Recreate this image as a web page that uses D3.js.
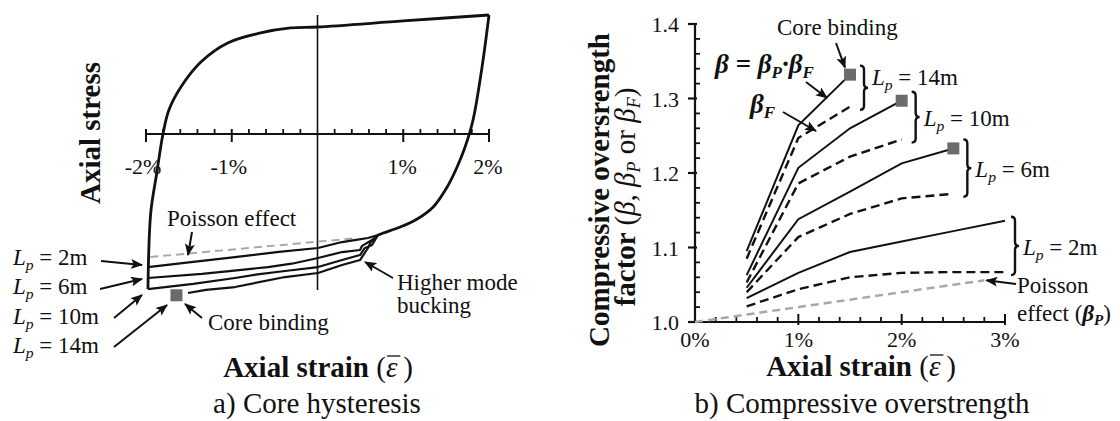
<!DOCTYPE html>
<html>
<head>
<meta charset="utf-8">
<script src="https://cdn.jsdelivr.net/npm/d3@7"></script>
<style>
  body { margin: 0; background: #fff; }
  svg { display: block; }
  text { font-family: "Liberation Serif", "Times New Roman", Times, serif; fill: #111; }
</style>
</head>
<body>
<svg id="chart" width="1120" height="421" font-family="Liberation Serif, Times New Roman, serif"></svg>
<script>
// ---------- Panel a: core hysteresis (strain in %, stress normalised to tensile peak) ----------
const hystTickValues = [-2, -1, 1, 2];
const hystTickLabels = ["-2%", "-1%", "1%", "2%"];

// reloading from compression through tensile yield up to +2%
const tensionStrain = [-1.977, -1.945, -1.875, -1.802, -1.733, -1.593, -1.36, -1.047, -0.663, -0.314, 0, 1.0, 2.0];
const tensionStress = [-1.303, -0.664, -0.330, 0, 0.202, 0.395, 0.605, 0.765, 0.849, 0.891, 0.899, 0.95, 1.0];
// unloading from +2% into compression
const unloadStrain = [2.0, 1.919, 1.814, 1.721, 1.628, 1.512, 1.349, 1.163, 0.965, 0.767, 0.706];
const unloadStress = [1.0, 0.563, 0.118, -0.109, -0.277, -0.445, -0.613, -0.714, -0.782, -0.832, -0.849];

// compressive branches for each plastic-hinge length
const hystLp = ["2m", "6m", "10m", "14m"];
const compStrain2 = [0.706, 0.589, 0.45, 0.286, 0.006, -0.45, -0.962, -1.45, -1.977];
const compStress2 = [-0.849, -0.874, -0.89, -0.908, -0.958, -0.99, -1.034, -1.074, -1.118];
const compStrain6 = [0.706, 0.636, 0.52, 0.496, 0.286, 0.006, -0.30, -0.577, -1.0, -1.347, -1.977];
const compStress6 = [-0.849, -0.891, -0.94, -0.975, -0.992, -1.042, -1.09, -1.118, -1.15, -1.176, -1.21];
const compStrain10 = [0.706, 0.636, 0.55, 0.496, 0.286, 0.006, -0.379, -0.70, -0.962, -1.45, -1.977];
const compStress10 = [-0.849, -0.933, -0.96, -1.017, -1.059, -1.118, -1.151, -1.18, -1.21, -1.26, -1.303];
const compStrain14 = [0.706, 0.62, 0.589, 0.496, 0.286, 0.006, -0.379, -0.962, -1.30, -1.51];
const compStress14 = [-0.849, -0.91, -0.958, -1.059, -1.101, -1.168, -1.202, -1.286, -1.31, -1.336];
// elastic Poisson reference line
const poissonHystStrain = [-1.95, 0.44];
const poissonHystStress = [-1.034, -0.876];
// core binding point
const bindHystStrain = -1.645;
const bindHystStress = -1.355;

// ---------- Panel b: compressive overstrength ----------
const betaTickValues = [1.0, 1.1, 1.2, 1.3, 1.4];
const betaTickLabels = ["1.0", "1.1", "1.2", "1.3", "1.4"];
const strainTickValues = [0, 1, 2, 3];
const strainTickLabels = ["0%", "1%", "2%", "3%"];

const strainPts = [0.5, 1.0, 1.5, 2.0, 2.5, 3.0];
const lpLabels = ["14m", "10m", "6m", "2m"];
const beta14 = [1.095, 1.264, 1.332];
const betaF14 = [1.085, 1.247, 1.289];
const beta10 = [1.063, 1.207, 1.260, 1.297];
const betaF10 = [1.053, 1.186, 1.222, 1.245];
const beta6 = [1.046, 1.138, 1.175, 1.213, 1.233];
const betaF6 = [1.040, 1.114, 1.145, 1.166, 1.172];
const beta2 = [1.032, 1.066, 1.094, 1.108, 1.122, 1.136];
const betaF2 = [1.021, 1.044, 1.060, 1.066, 1.067, 1.067];
const poissonStrain = [0, 0.5, 1.0, 1.5, 2.0, 2.5, 2.8];
const poissonBeta = [1.0, 1.01, 1.02, 1.03, 1.04, 1.05, 1.056];

// ---------------------------------------------------------------
const svg = d3.select("#chart");
const INK = "#111";
const GREY = "#a8a8a8";
const SQUARE = "#6b6b6b";

const defs = svg.append("defs");
defs.append("marker")
  .attr("id", "head").attr("viewBox", "0 0 12 10")
  .attr("refX", 11).attr("refY", 5)
  .attr("markerWidth", 12).attr("markerHeight", 10)
  .attr("markerUnits", "userSpaceOnUse").attr("orient", "auto")
  .append("path").attr("d", "M0,0 L12,5 L0,10 L2.5,5 Z").attr("fill", INK);

function arrow(g, x1, y1, x2, y2) {
  g.append("line").attr("x1", x1).attr("y1", y1).attr("x2", x2).attr("y2", y2)
    .attr("stroke", INK).attr("stroke-width", 2).attr("marker-end", "url(#head)");
}

function lpText(g, x, y, tail, size) {
  const t = g.append("text").attr("x", x).attr("y", y).attr("font-size", size);
  t.append("tspan").attr("font-style", "italic").text("L");
  t.append("tspan").attr("font-style", "italic").attr("font-size", size * 0.68).attr("dy", 5).text("p");
  t.append("tspan").attr("dy", -5).text(" = " + tail);
  return t;
}

function zip(xs, ys) { return xs.map((x, i) => [x, ys[i]]); }

// ======================= Panel a =======================
const ga = svg.append("g");
const xa = d3.scaleLinear().domain([-2, 2]).range([146, 489]);
const ya = d3.scaleLinear().domain([0, 1]).range([134, 15]);

// axes crossing at origin
ga.append("line").attr("x1", xa(-2)).attr("x2", xa(2)).attr("y1", ya(0)).attr("y2", ya(0))
  .attr("stroke", INK).attr("stroke-width", 2);
ga.append("line").attr("x1", xa(0)).attr("x2", xa(0)).attr("y1", ya(1.0)).attr("y2", ya(-1.31))
  .attr("stroke", INK).attr("stroke-width", 1.6);
const minorA = d3.range(-2, 2.001, 0.2).filter(v => Math.abs(v - Math.round(v)) > 1e-6);
ga.selectAll(".mta").data(minorA).join("line")
  .attr("x1", d => xa(d)).attr("x2", d => xa(d)).attr("y1", ya(0) - 5).attr("y2", ya(0))
  .attr("stroke", INK).attr("stroke-width", 1.8);
ga.selectAll(".Mta").data(hystTickValues).join("line")
  .attr("x1", d => xa(d)).attr("x2", d => xa(d)).attr("y1", ya(0) - 5).attr("y2", ya(0) + 8)
  .attr("stroke", INK).attr("stroke-width", 2);
ga.selectAll(".tla").data(hystTickValues).join("text")
  .attr("x", d => xa(d) - (d < 0 ? 3 : 1)).attr("y", ya(0) + 40)
  .attr("text-anchor", "middle").attr("font-size", 22)
  .text((d, i) => hystTickLabels[i]);

const lineA = d3.line().x(d => xa(d[0])).y(d => ya(d[1]));
const smoothA = d3.line().x(d => xa(d[0])).y(d => ya(d[1])).curve(d3.curveCatmullRom.alpha(0.5));

// Poisson reference (grey dashed)
ga.append("path").attr("d", lineA(zip(poissonHystStrain, poissonHystStress)))
  .attr("fill", "none").attr("stroke", GREY).attr("stroke-width", 2).attr("stroke-dasharray", "8,5");

// compressive branches
[[compStrain2, compStress2], [compStrain6, compStress6], [compStrain10, compStress10], [compStrain14, compStress14]]
  .forEach(([s, v]) => {
    ga.append("path").attr("d", lineA(zip(s, v)))
      .attr("fill", "none").attr("stroke", INK).attr("stroke-width", 2.2).attr("stroke-linejoin", "round");
  });

// loop
ga.append("path").attr("d", smoothA(zip(tensionStrain, tensionStress)))
  .attr("fill", "none").attr("stroke", INK).attr("stroke-width", 2.8);
ga.append("path").attr("d", smoothA(zip(unloadStrain, unloadStress)))
  .attr("fill", "none").attr("stroke", INK).attr("stroke-width", 2.8);

// core binding marker
ga.append("rect").attr("x", xa(bindHystStrain) - 6).attr("y", ya(bindHystStress) - 6)
  .attr("width", 12).attr("height", 12).attr("fill", SQUARE);

// annotations
ga.append("text").attr("x", 100).attr("y", 133).attr("text-anchor", "middle")
  .attr("transform", "rotate(-90,100,133)").attr("font-size", 29).attr("font-weight", "bold")
  .text("Axial stress");
ga.append("text").attr("x", 167).attr("y", 226).attr("font-size", 23).text("Poisson effect");
arrow(ga, 192, 232, 188, 255);
const hystLabelY = [265, 294, 324, 353];
hystLp.forEach((lp, i) => lpText(ga, 13, hystLabelY[i], lp, 23));
arrow(ga, 101, 261, 142, 265);
arrow(ga, 100, 289, 142, 279);
arrow(ga, 114, 318, 142, 295);
arrow(ga, 114, 347, 167, 305);
ga.append("text").attr("x", 208).attr("y", 330).attr("font-size", 23).text("Core binding");
arrow(ga, 202, 318, 185, 304);
ga.append("text").attr("x", 397).attr("y", 290).attr("font-size", 23).text("Higher mode");
ga.append("text").attr("x", 397).attr("y", 313).attr("font-size", 23).text("bucking");
arrow(ga, 393, 278, 365, 262);

// "Axial strain (ε̄)" with a bar drawn over the epsilon
function strainTitle(g, cx, y) {
  const t = g.append("text").attr("x", cx).attr("y", y).attr("text-anchor", "middle").attr("font-size", 29);
  t.append("tspan").attr("font-weight", "bold").text("Axial strain ");
  t.append("tspan").text("(");
  t.append("tspan").attr("font-style", "italic").text("\u03B5");
  t.append("tspan").text("\u2009)");
  const idx = "Axial strain (".length;
  const box = t.node().getExtentOfChar(idx);
  g.append("line")
    .attr("x1", box.x + 1).attr("x2", box.x + box.width + 3)
    .attr("y1", y - 21).attr("y2", y - 21)
    .attr("stroke", INK).attr("stroke-width", 1.3);
}
strainTitle(ga, 318, 377);
ga.append("text").attr("x", 317).attr("y", 413).attr("text-anchor", "middle").attr("font-size", 29)
  .text("a) Core hysteresis");

// ======================= Panel b =======================
const gb = svg.append("g");
const xb = d3.scaleLinear().domain([0, 3]).range([695, 1005]);
const yb = d3.scaleLinear().domain([1.0, 1.4]).range([322, 24]);

gb.append("line").attr("x1", xb(0)).attr("x2", xb(3)).attr("y1", yb(1.0)).attr("y2", yb(1.0))
  .attr("stroke", INK).attr("stroke-width", 2.2);
gb.append("line").attr("x1", xb(0)).attr("x2", xb(0)).attr("y1", yb(1.0)).attr("y2", yb(1.4))
  .attr("stroke", INK).attr("stroke-width", 2.2);
const minorX = d3.range(0, 3.001, 0.2).filter(v => Math.abs(v - Math.round(v)) > 1e-6);
gb.selectAll(".mtx").data(minorX).join("line")
  .attr("x1", d => xb(d)).attr("x2", d => xb(d)).attr("y1", yb(1.0) - 5).attr("y2", yb(1.0))
  .attr("stroke", INK).attr("stroke-width", 1.8);
gb.selectAll(".Mtx").data(strainTickValues.slice(1)).join("line")
  .attr("x1", d => xb(d)).attr("x2", d => xb(d)).attr("y1", yb(1.0) - 8).attr("y2", yb(1.0) + 3)
  .attr("stroke", INK).attr("stroke-width", 2);
gb.selectAll(".tlx").data(strainTickValues).join("text")
  .attr("x", d => xb(d)).attr("y", yb(1.0) + 25).attr("text-anchor", "middle").attr("font-size", 22)
  .text((d, i) => strainTickLabels[i]);
const minorY = d3.range(1.0, 1.4001, 0.02).filter(v => Math.abs(v * 10 - Math.round(v * 10)) > 1e-6);
gb.selectAll(".mty").data(minorY).join("line")
  .attr("x1", xb(0)).attr("x2", xb(0) + 5).attr("y1", d => yb(d)).attr("y2", d => yb(d))
  .attr("stroke", INK).attr("stroke-width", 1.8);
gb.selectAll(".Mty").data(betaTickValues).join("line")
  .attr("x1", xb(0) - 7).attr("x2", xb(0) + 2).attr("y1", d => yb(d)).attr("y2", d => yb(d))
  .attr("stroke", INK).attr("stroke-width", 2.2);
gb.selectAll(".tly").data(betaTickValues).join("text")
  .attr("x", xb(0) - 16).attr("y", d => yb(d) + 8).attr("text-anchor", "end").attr("font-size", 22)
  .text((d, i) => betaTickLabels[i]);

const lineB = d3.line().x(d => xb(d[0])).y(d => yb(d[1]));

gb.append("path").attr("d", lineB(zip(poissonStrain, poissonBeta)))
  .attr("fill", "none").attr("stroke", GREY).attr("stroke-width", 2.5).attr("stroke-dasharray", "8,5");

const groups = [
  { lp: lpLabels[0], beta: beta14, betaF: betaF14, bind: true, labelDy: -3 },
  { lp: lpLabels[1], beta: beta10, betaF: betaF10, bind: true, labelDy: 9 },
  { lp: lpLabels[2], beta: beta6, betaF: betaF6, bind: true, labelDy: 9 },
  { lp: lpLabels[3], beta: beta2, betaF: betaF2, bind: false, labelDy: 9 }
];

groups.forEach(g => {
  const s = strainPts.slice(0, g.beta.length);
  gb.append("path").attr("d", lineB(zip(s, g.betaF)))
    .attr("fill", "none").attr("stroke", INK).attr("stroke-width", 2.4).attr("stroke-dasharray", "9,5");
  gb.append("path").attr("d", lineB(zip(s, g.beta)))
    .attr("fill", "none").attr("stroke", INK).attr("stroke-width", 2);
  const last = s.length - 1;
  const xEnd = xb(s[last]);
  if (g.bind) {
    gb.append("rect").attr("x", xEnd - 6).attr("y", yb(g.beta[last]) - 6)
      .attr("width", 12).attr("height", 12).attr("fill", SQUARE);
  }
  // brace spanning the solid and dashed end points
  const top = yb(g.beta[last]) - (g.bind ? 9 : 4), bot = yb(g.betaF[last]) + 3;
  const bx = xEnd + (g.bind ? 10 : 6), w = 8, mid = (top + bot) / 2, r = 4;
  const d = `M${bx},${top} Q${bx + w / 2},${top} ${bx + w / 2},${top + r} L${bx + w / 2},${mid - r} ` +
            `Q${bx + w / 2},${mid} ${bx + w},${mid} Q${bx + w / 2},${mid} ${bx + w / 2},${mid + r} ` +
            `L${bx + w / 2},${bot - r} Q${bx + w / 2},${bot} ${bx},${bot}`;
  gb.append("path").attr("d", d).attr("fill", "none").attr("stroke", INK).attr("stroke-width", 2.4);
  lpText(gb, bx + w + 4, mid + g.labelDy, g.lp, 23);
});

// panel b annotations
gb.append("text").attr("x", 777).attr("y", 35).attr("font-size", 23).text("Core binding");
arrow(gb, 836, 43, xb(1.5) - 5, yb(beta14[2]) - 7);
const eq = gb.append("text").attr("x", 715).attr("y", 73).attr("font-size", 27)
  .attr("font-weight", "bold").attr("font-style", "italic");
eq.append("tspan").text("\u03B2 = \u03B2");
eq.append("tspan").attr("font-size", 17).attr("dy", 5).text("P");
eq.append("tspan").attr("dy", -5).text("\u00B7\u03B2");
eq.append("tspan").attr("font-size", 17).attr("dy", 5).text("F");
arrow(gb, 806, 82, 827, 98);
const bf = gb.append("text").attr("x", 750).attr("y", 113).attr("font-size", 27)
  .attr("font-weight", "bold").attr("font-style", "italic");
bf.append("tspan").text("\u03B2");
bf.append("tspan").attr("font-size", 17).attr("dy", 5).text("F");
arrow(gb, 783, 112, 816, 131);
gb.append("text").attr("x", 1017).attr("y", 293).attr("font-size", 23).text("Poisson");
const pe = gb.append("text").attr("x", 1017).attr("y", 321).attr("font-size", 23);
pe.append("tspan").text("effect (");
pe.append("tspan").attr("font-weight", "bold").attr("font-style", "italic").text("\u03B2");
pe.append("tspan").attr("font-weight", "bold").attr("font-style", "italic").attr("font-size", 15).attr("dy", 4).text("P");
pe.append("tspan").attr("dy", -4).text(")");
arrow(gb, 1016, 284, xb(2.8) + 2, yb(1.056));

// axis titles
gb.append("text").attr("x", 0).attr("y", 0).attr("text-anchor", "middle")
  .attr("transform", "translate(609,190) rotate(-90)").attr("font-size", 29).attr("font-weight", "bold")
  .text("Compressive oversrength");
const yt2 = gb.append("text").attr("x", 0).attr("y", 0).attr("text-anchor", "middle")
  .attr("transform", "translate(635,197) rotate(-90)").attr("font-size", 29);
yt2.append("tspan").attr("font-weight", "bold").text("factor ");
yt2.append("tspan").text("(");
yt2.append("tspan").attr("font-style", "italic").text("\u03B2");
yt2.append("tspan").text(", ");
yt2.append("tspan").attr("font-style", "italic").text("\u03B2");
yt2.append("tspan").attr("font-style", "italic").attr("font-size", 18).attr("dy", 5).text("P");
yt2.append("tspan").attr("dy", -5).text(" or ");
yt2.append("tspan").attr("font-style", "italic").text("\u03B2");
yt2.append("tspan").attr("font-style", "italic").attr("font-size", 18).attr("dy", 5).text("F");
yt2.append("tspan").attr("dy", -5).text(")");

strainTitle(gb, 861, 376);
gb.append("text").attr("x", 862).attr("y", 413).attr("text-anchor", "middle").attr("font-size", 29)
  .text("b) Compressive overstrength");
</script>
</body>
</html>
